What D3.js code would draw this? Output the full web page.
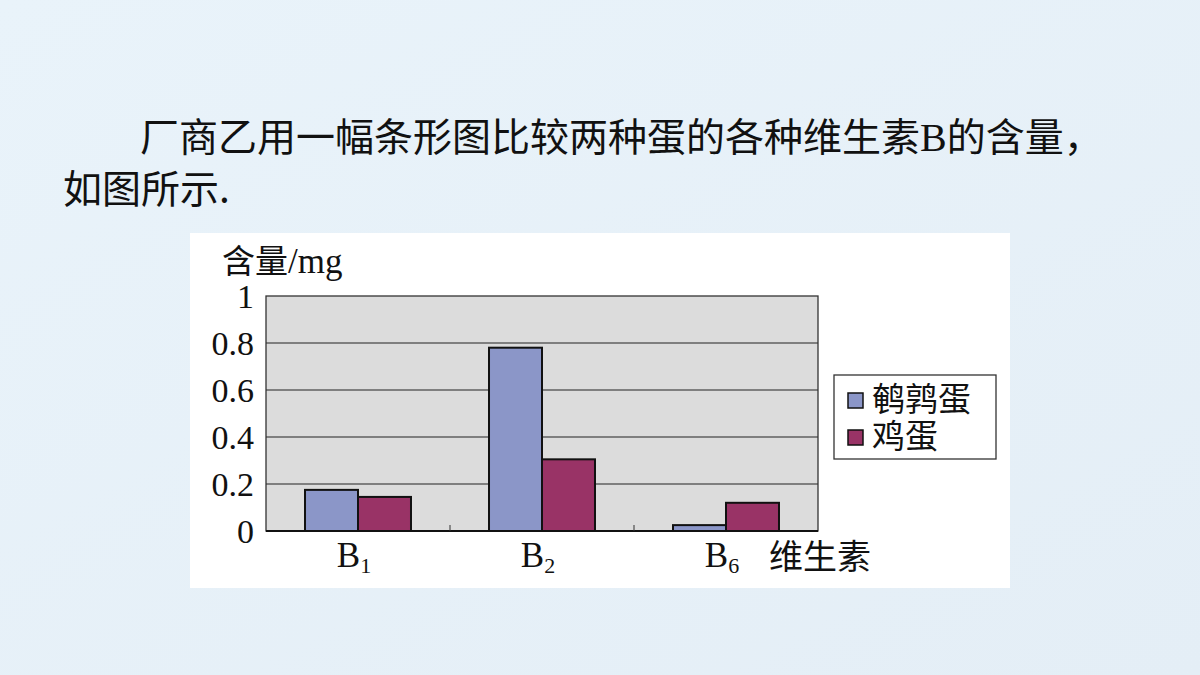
<!DOCTYPE html>
<html><head><meta charset="utf-8">
<script src="https://cdn.jsdelivr.net/npm/d3@7"></script>
<style>html,body{margin:0;padding:0;background:#e7f1f8;}svg{display:block;}</style>
</head><body>
<svg id="c" width="1200" height="675"></svg>
<script>
const categories = ["B1", "B2", "B6"];
const subscripts = ["1", "2", "6"];
const seriesNames = ["鹌鹑蛋", "鸡蛋"];
const quailValues = [0.175, 0.78, 0.025];
const chickenValues = [0.145, 0.305, 0.12];
const yTicks = [0, 0.2, 0.4, 0.6, 0.8, 1];
const yTickLabels = ["0", "0.2", "0.4", "0.6", "0.8", "1"];
const colors = ["#8b96c8", "#993366"];

const svg = d3.select("#c");
const serif = "'Liberation Serif','Noto Sans CJK SC',serif";
const cjk = "'Noto Sans CJK SC','Noto Sans CJK JP',sans-serif";

const defs = svg.append("defs");
const g = defs.append("linearGradient").attr("id","bg").attr("x1",0).attr("y1",0).attr("x2",1).attr("y2",1);
g.append("stop").attr("offset",0).attr("stop-color","#e9f3fa");
g.append("stop").attr("offset",1).attr("stop-color","#e4eef6");
svg.append("rect").attr("width",1200).attr("height",675).attr("fill","url(#bg)");

// title
const t1 = svg.append("text").attr("x",140).attr("y",151).attr("font-size",39).attr("font-family",cjk).attr("fill","#111");
t1.append("tspan").text("厂商乙用一幅条形图比较两种蛋的各种维生素");
t1.append("tspan").attr("font-family",serif).attr("font-size",40).text("B");
t1.append("tspan").text("的含量，");
svg.append("text").attr("x",63).attr("y",203).attr("font-size",39).attr("font-family",cjk).attr("fill","#111").text("如图所示.");

// white panel
svg.append("rect").attr("x",190).attr("y",233).attr("width",820).attr("height",355).attr("fill","#ffffff");

const m = {left:266, right:818, top:296, bottom:531};
const x0 = d3.scaleBand().domain(categories).range([m.left, m.right]).paddingInner(0.424).paddingOuter(0.212);
const x1 = d3.scaleBand().domain(seriesNames).range([0, x0.bandwidth()]);
const y = d3.scaleLinear().domain([0,1]).range([m.bottom, m.top]);

svg.append("rect").attr("x",m.left).attr("y",m.top).attr("width",m.right-m.left).attr("height",m.bottom-m.top).attr("fill","#dcdcdc");

svg.append("g").selectAll("line").data(yTicks.filter(d=>d>0 && d<1)).join("line")
  .attr("x1",m.left).attr("x2",m.right).attr("y1",d=>y(d)).attr("y2",d=>y(d))
  .attr("stroke","#222").attr("stroke-width",1.2);

const data = categories.map((c,i)=>({c, vals:[quailValues[i], chickenValues[i]]}));
const groups = svg.append("g").selectAll("g").data(data).join("g")
  .attr("transform",d=>`translate(${x0(d.c)},0)`);
groups.selectAll("rect").data(d=>d.vals.map((v,j)=>({v, s:seriesNames[j], j}))).join("rect")
  .attr("x",d=>x1(d.s)).attr("width",x1.bandwidth())
  .attr("y",d=>y(d.v)).attr("height",d=>y(0)-y(d.v))
  .attr("fill",d=>colors[d.j]).attr("stroke","#111").attr("stroke-width",2);

svg.append("rect").attr("x",m.left).attr("y",m.top).attr("width",m.right-m.left).attr("height",m.bottom-m.top)
  .attr("fill","none").attr("stroke","#333").attr("stroke-width",1.3);
svg.append("line").attr("x1",m.left).attr("x2",m.right).attr("y1",m.bottom).attr("y2",m.bottom).attr("stroke","#111").attr("stroke-width",1.8);

const yAxis = d3.axisLeft(y).tickValues(yTicks).tickSize(0).tickPadding(12).tickFormat((d,i)=>yTickLabels[i]);
const ya = svg.append("g").attr("transform",`translate(${m.left},0)`).call(yAxis);
ya.select(".domain").remove();
ya.selectAll("text").attr("font-family",serif).attr("font-size",34).attr("fill","#111").attr("dy","0.34em");

const step = x0.step();
const bounds = categories.slice(1).map((c,i)=>x0(c) - x0.paddingInner()*step/2);
svg.append("g").selectAll("line").data(bounds).join("line")
  .attr("x1",d=>d).attr("x2",d=>d).attr("y1",m.bottom).attr("y2",m.bottom-6)
  .attr("stroke","#333").attr("stroke-width",1);

const xl = svg.append("g").selectAll("text").data(categories).join("text")
  .attr("x",d=>x0(d)+x0.bandwidth()/2 - 4).attr("y",567)
  .attr("text-anchor","middle").attr("font-family",serif).attr("font-size",35).attr("fill","#111");
xl.append("tspan").text("B");
xl.append("tspan").attr("font-size",22).attr("dy",6).text((d,i)=>subscripts[i]);

svg.append("text").attr("x",769).attr("y",569).attr("font-family",cjk).attr("font-size",34).attr("fill","#111").text("维生素");
const yt = svg.append("text").attr("x",222).attr("y",273).attr("font-family",cjk).attr("font-size",33).attr("fill","#111");
yt.append("tspan").text("含量");
yt.append("tspan").attr("font-family",serif).attr("font-size",35).text("/mg");

svg.append("rect").attr("x",834).attr("y",375).attr("width",162).attr("height",84)
  .attr("fill","#fff").attr("stroke","#333").attr("stroke-width",1.3);
const lg = svg.append("g").selectAll("g").data(seriesNames).join("g")
  .attr("transform",(d,i)=>`translate(848,${393 + i*37})`);
lg.append("rect").attr("width",15).attr("height",15).attr("fill",(d,i)=>colors[i]).attr("stroke","#111").attr("stroke-width",1.5);
lg.append("text").attr("x",24).attr("y",18).attr("font-family",cjk).attr("font-size",33).attr("fill","#111").text(d=>d);
</script>
</body></html>
